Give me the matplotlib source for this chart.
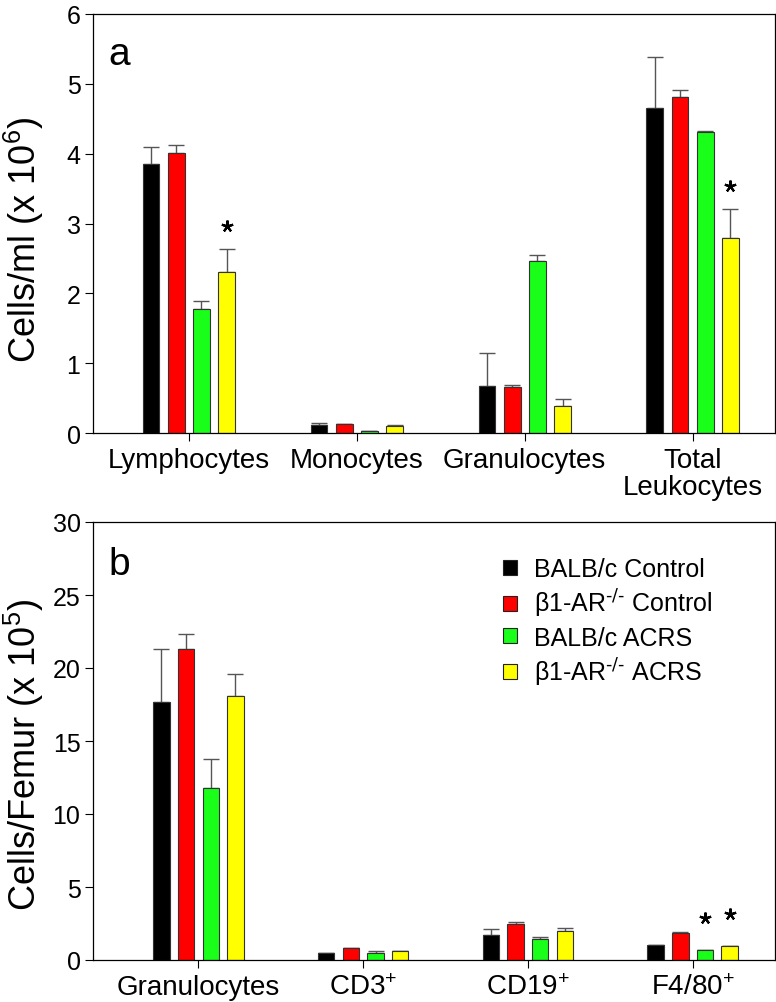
import matplotlib
matplotlib.use("Agg")
import matplotlib.pyplot as plt
from matplotlib.patches import Patch
import numpy as np

plt.rcParams['font.family'] = ['Liberation Sans', 'DejaVu Sans']
plt.rcParams['mathtext.default'] = 'regular'

# ---------------- data ----------------
series = ['BALB/c Control', 'β1-AR$^{\\text{-/-}}$ Control', 'BALB/c ACRS', 'β1-AR$^{\\text{-/-}}$ ACRS']
colors = ['#000000', '#ff0000', '#19ff19', '#ffff00']

cats_a = ['Lymphocytes', 'Monocytes', 'Granulocytes', 'Total\nLeukocytes']
vals_a = {
    'BALB/c Control': [3.85, 0.11, 0.67, 4.65],
    'b1 Control':     [4.01, 0.13, 0.66, 4.81],
    'BALB/c ACRS':    [1.78, 0.03, 2.47, 4.31],
    'b1 ACRS':        [2.31, 0.095, 0.38, 2.79],
}
errtop_a = {
    'BALB/c Control': [4.09, 0.15, 1.15, 5.39],
    'b1 Control':     [4.13, 0.13, 0.69, 4.91],
    'BALB/c ACRS':    [1.885, 0.03, 2.55, 4.33],
    'b1 ACRS':        [2.64, 0.115, 0.49, 3.21],
}
stars_a = [(0, 3, 2.96), (3, 3, 3.54)]   # (category, series, y)

cats_b = ['Granulocytes', 'CD3$^{+}$', 'CD19$^{+}$', 'F4/80$^{+}$']
vals_b = {
    'BALB/c Control': [17.7, 0.48, 1.71, 1.03],
    'b1 Control':     [21.3, 0.80, 2.50, 1.87],
    'BALB/c ACRS':    [11.8, 0.47, 1.46, 0.66],
    'b1 ACRS':        [18.06, 0.62, 1.97, 0.94],
}
errtop_b = {
    'BALB/c Control': [21.3, 0.48, 2.09, 1.03],
    'b1 Control':     [22.3, 0.83, 2.60, 1.90],
    'BALB/c ACRS':    [13.75, 0.62, 1.60, 0.68],
    'b1 ACRS':        [19.6, 0.64, 2.17, 0.96],
}
stars_b = [(3, 2, 2.86), (3, 3, 3.17)]

keys = ['BALB/c Control', 'b1 Control', 'BALB/c ACRS', 'b1 ACRS']
offsets = [-0.225, -0.075, 0.075, 0.225]
width = 0.1

W, H = 776, 1003
fig = plt.figure(figsize=(W/100, H/100), dpi=100)

def panel(rect, cats, vals, errtop, stars, ylim, yticks, xlim, letter, ylabel, ylab_y):
    ax = fig.add_axes(rect)
    x = np.arange(len(cats))
    for k, off, c in zip(keys, offsets, colors):
        v = np.array(vals[k])
        e = np.array(errtop[k]) - v
        ax.bar(x + off, v, width, color=c, edgecolor='#333333', linewidth=0.8, zorder=2)
        ax.errorbar(x + off, v, yerr=[np.zeros_like(e), e], fmt='none',
                    ecolor='#555555', elinewidth=1.0, capsize=6, capthick=1.0, zorder=1)
    for ci, si, yv in stars:
        ax.plot(ci + offsets[si], yv, marker=(5, 2, 0), markersize=8.5, mew=1.6,
                color='black', linestyle='none')
    ax.set_xlim(*xlim)
    ax.set_ylim(*ylim)
    ax.set_yticks(yticks)
    ax.set_xticks(x)
    ax.set_xticklabels(cats, fontsize=20, linespacing=1.05)
    ax.tick_params(axis='y', direction='out', length=6, width=0.8, labelsize=18, pad=3)
    ax.tick_params(axis='x', direction='out', length=6, width=0.8, pad=4)
    for s in ax.spines.values():
        s.set_linewidth(0.9)
    ax.text(0.022, 0.905, letter, transform=ax.transAxes, fontsize=28, va='center', ha='left')
    fig.text(24/W, ylab_y, ylabel, rotation=90, fontsize=26, ha='center', va='center')
    return ax

axa = panel([93/W, 1-434/H, 682/W, 419/H], cats_a, vals_a, errtop_a, stars_a,
            (0, 6), range(0, 7), (-0.57, 3.49), 'a', 'Cells/ml (x 10$^{6}$)', 1-240/H)
axb = panel([93/W, 1-961/H, 682/W, 438/H], cats_b, vals_b, errtop_b, stars_b,
            (0, 30), range(0, 31, 5), (-0.64, 3.50), 'b', 'Cells/Femur (x 10$^{5}$)', 1-755/H)

handles = [Patch(facecolor=c, edgecolor='#222222', linewidth=0.8) for c in colors]
axb.legend(handles, series, loc='upper left', bbox_to_anchor=(0.601, 0.92), frameon=False,
           fontsize=18, handlelength=0.55, handleheight=0.55, handletextpad=0.7,
           labelspacing=0.25, borderaxespad=0, borderpad=0)

fig.savefig('out.png', dpi=100)
